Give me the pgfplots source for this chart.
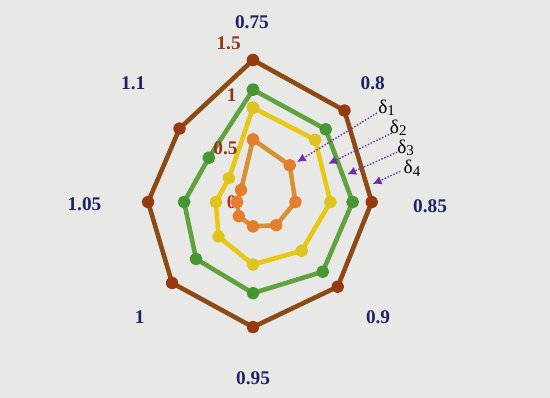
\documentclass[border=0pt]{standalone}
\usepackage{pgfplots}
\pgfplotsset{compat=1.18}
\usetikzlibrary{arrows.meta}
\usepackage{fontspec}
\setmainfont{Liberation Serif}

\definecolor{bg}{RGB}{232,232,230}
\definecolor{navy}{RGB}{28,36,100}
\definecolor{rlab}{RGB}{145,55,25}
\definecolor{rzero}{RGB}{205,35,20}
\definecolor{brownl}{RGB}{140,74,20}
\definecolor{brownd}{RGB}{150,58,18}
\definecolor{greenl}{RGB}{96,162,62}
\definecolor{greend}{RGB}{70,150,50}
\definecolor{yell}{RGB}{232,200,20}
\definecolor{yeld}{RGB}{222,196,30}
\definecolor{orgl}{RGB}{212,145,55}
\definecolor{orgd}{RGB}{228,125,45}
\definecolor{purp}{RGB}{112,48,160}

\tikzset{
    lab/.style={font=\bfseries\fontsize{11}{13}\selectfont, text=navy},
    rl/.style={font=\bfseries\fontsize{11}{13}\selectfont, text=rlab},
    dl/.style={font=\fontsize{11}{13}\selectfont, inner sep=0pt},
    ar/.style={purp, densely dotted, line width=0.8pt, -{Latex[length=5pt, width=5pt]}},
}
\newcommand{\dsub}[1]{δ\raisebox{-0.3ex}{\fontsize{8.5}{10}\selectfont #1}}

\begin{document}
\begin{tikzpicture}
\begin{axis}[
    x=2.12cm, y=2.12cm,
    xmin=-2.387, xmax=2.802,
    ymin=-1.849, ymax=1.906,
    hide axis,
    clip=false,
    axis background/.style={fill=bg},
    every axis plot/.append style={line width=2.6pt, line join=round, mark=*, mark size=2.3pt},
]
% delta 4
\addplot[brownl, data cs=polar, mark options={fill=brownd, draw=brownd}] coordinates {
    (90,1.34) (45,1.22) (0,1.12) (-45,1.13) (-90,1.18) (-135,1.08) (-180,0.99) (-225,0.98) (-270,1.34)
};
% delta 3
\addplot[greenl, data cs=polar, mark options={fill=greend, draw=greend}] coordinates {
    (90,1.06) (45,0.97) (0,0.94) (-45,0.93) (-90,0.86) (-135,0.76) (-180,0.65) (-225,0.59) (-270,1.06)
};
% delta 2
\addplot[yell, data cs=polar, mark options={fill=yeld, draw=yeld}] coordinates {
    (90,0.89) (45,0.83) (0,0.73) (-45,0.65) (-90,0.59) (-135,0.46) (-180,0.35) (-225,0.32) (-270,0.89)
};
% delta 1
\addplot[orgl, data cs=polar, mark options={fill=orgd, draw=orgd}] coordinates {
    (90,0.59) (45,0.49) (0,0.40) (-45,0.31) (-90,0.23) (-135,0.19) (-180,0.15) (-225,0.16) (-270,0.59)
};

% category labels
\node[lab] at (axis cs:-0.01,1.70) {0.75};
\node[lab] at (axis cs:1.13,1.12) {0.8};
\node[lab] at (axis cs:1.67,-0.04) {0.85};
\node[lab] at (axis cs:1.18,-1.09) {0.9};
\node[lab] at (axis cs:0,-1.66) {0.95};
\node[lab] at (axis cs:-1.07,-1.09) {1};
\node[lab] at (axis cs:-1.59,-0.02) {1.05};
\node[lab] at (axis cs:-1.13,1.12) {1.1};

% radial labels
\node[rl] at (axis cs:-0.23,1.50) {1.5};
\node[rl] at (axis cs:-0.20,1.01) {1};
\node[rl] at (axis cs:-0.26,0.51) {0.5};
\node[rl, text=rzero] at (axis cs:-0.20,0) {0};

% annotations
\draw[ar] (axis cs:1.17,0.84) -- (axis cs:0.415,0.377);
\draw[ar] (axis cs:1.31,0.65) -- (axis cs:0.71,0.36);
\draw[ar] (axis cs:1.36,0.47) -- (axis cs:0.89,0.26);
\draw[ar] (axis cs:1.39,0.29) -- (axis cs:1.13,0.17);
\node[dl] at (axis cs:1.26,0.89) {\dsub{1}};
\node[dl] at (axis cs:1.37,0.70) {\dsub{2}};
\node[dl] at (axis cs:1.44,0.51) {\dsub{3}};
\node[dl] at (axis cs:1.50,0.32) {\dsub{4}};
\end{axis}
\end{tikzpicture}
\end{document}
